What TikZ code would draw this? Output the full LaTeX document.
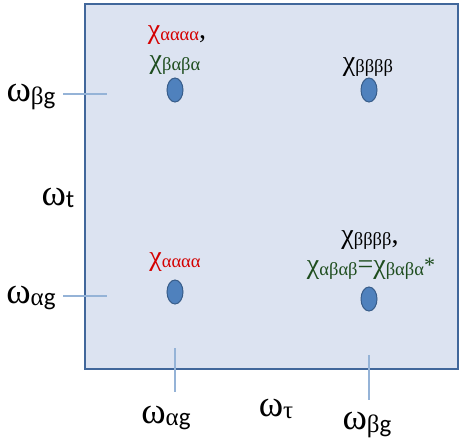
\documentclass[tikz,border=0pt]{standalone}
\usepackage{fontspec}
\setmainfont{Liberation Serif}
\newfontfamily\calf{Carlito}
\definecolor{boxfill}{HTML}{DCE3F1}
\definecolor{boxline}{HTML}{41679B}
\definecolor{dotfill}{HTML}{4F81BD}
\definecolor{dotline}{HTML}{385D8A}
\definecolor{tickc}{HTML}{95B3D7}
\definecolor{redc}{HTML}{D40000}
\definecolor{greenc}{HTML}{1E4D1E}
\newcommand{\wlab}[1]{{\fontsize{37}{37}\selectfont ω}\raisebox{-0.45ex}{\fontsize{25}{25}\selectfont #1}}
\newcommand{\chil}[1]{{\fontsize{28}{28}\selectfont χ}\raisebox{-0.35ex}{\fontsize{18.5}{18.5}\selectfont #1}}
\tikzset{
  dot/.style={ellipse, draw=dotline, fill=dotfill, line width=1pt, minimum width=16pt, minimum height=24pt, inner sep=0pt},
  tick/.style={draw=tickc, line width=1.5pt},
  lab/.style={inner sep=0pt, anchor=center},
}
\usetikzlibrary{shapes.geometric}
\begin{document}
\begin{tikzpicture}[x=1pt,y=-1pt]
\useasboundingbox (0,0) rectangle (463,442);
\draw[fill=boxfill, draw=boxline, line width=2.2pt] (85,4) rectangle (458,369);
% ticks
\coordinate (tl1) at (63,94); \coordinate (tl2) at (107,94);
\coordinate (tl3) at (63,296); \coordinate (tl4) at (107,296);
\coordinate (tb1) at (175,348); \coordinate (tb2) at (175,392);
\coordinate (tb3) at (369,355); \coordinate (tb4) at (369,400);
\draw[tick] (tl1) -- (tl2);
\draw[tick] (tl3) -- (tl4);
\draw[tick] (tb1) -- (tb2);
\draw[tick] (tb3) -- (tb4);
% dots
\node[dot] (d1) at (175,90) {};
\node[dot] (d2) at (369,90) {};
\node[dot] (d3) at (175,292) {};
\node[dot] (d4) at (369,299) {};
% chi labels
\node[lab, text=redc] (c1) at (177,35) {\chil{αααα}\fontsize{28}{28}\selectfont\textcolor{black}{,}};
\node[lab, text=greenc] (c2) at (175,65) {\chil{βαβα}};
\node[lab] (c3) at (368,67) {\chil{ββββ}};
\node[lab, text=redc] (c4) at (175,262) {\chil{αααα}};
\node[lab] (c5) at (370,240) {\chil{ββββ}\fontsize{28}{28}\selectfont,};
\node[lab, text=greenc] (c6) at (371,269) {\chil{αβαβ}{\fontsize{28}{28}\selectfont=}\chil{βαβα}\raisebox{0.1ex}{\fontsize{22}{22}\selectfont *}};
% omega labels
\node[lab] (w1) at (31,97) {\wlab{β{\calf g}}};
\node[lab] (w2) at (58,198) {\wlab{{\calf t}}};
\node[lab] (w3) at (31,298) {\wlab{α{\calf g}}};
\node[lab] (w4) at (166,418) {\wlab{α{\calf g}}};
\node[lab] (w5) at (276,409) {\wlab{τ}};
\node[lab] (w6) at (367,425) {\wlab{β{\calf g}}};
\end{tikzpicture}
\end{document}
